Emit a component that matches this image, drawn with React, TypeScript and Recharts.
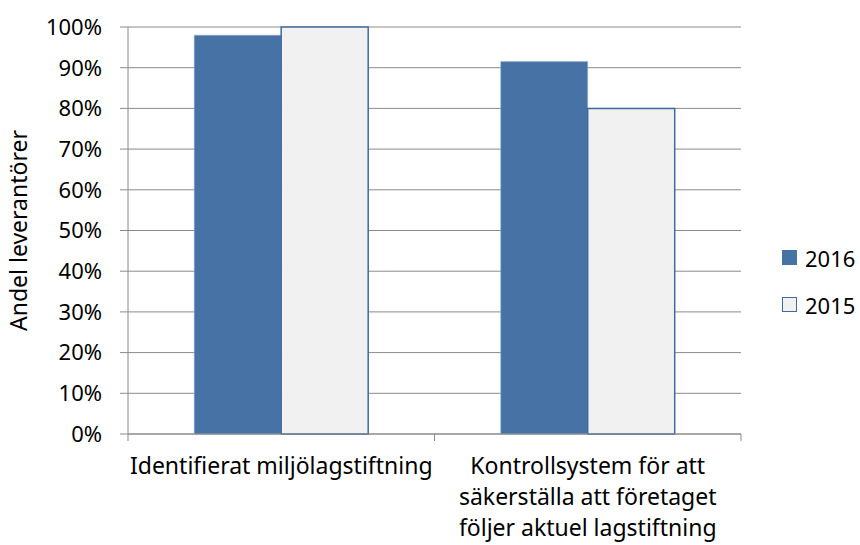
import React from "react";
import { BarChart, Bar, XAxis, YAxis, CartesianGrid, Legend } from "recharts";

const categories = [
  "Identifierat miljölagstiftning",
  "Kontrollsystem för att\nsäkerställa att företaget\nföljer aktuel lagstiftning",
];
const values2016 = [0.98, 0.915];
const values2015 = [1.0, 0.8];
const seriesNames = ["2016", "2015"];
const yTicks = [0, 0.1, 0.2, 0.3, 0.4, 0.5, 0.6, 0.7, 0.8, 0.9, 1.0];
const yTitle = "Andel leverantörer";

const data = categories.map((c, i) => ({
  name: c,
  s2016: values2016[i],
  s2015: values2015[i],
}));

const W = 860;
const H = 545;
const LEGEND_W = 80;
const RIGHT_GAP = 119;
const M = { top: 27, right: RIGHT_GAP - LEGEND_W, bottom: 0, left: 0 };
const Y_W = 128;
const X_H = 111;
const PLOT_W = W - RIGHT_GAP - Y_W;
const BAND = PLOT_W / categories.length;
const FONT = "'Noto Sans', 'Open Sans', sans-serif";
const GRAY = "#8a8a8a";
const BLUE = "#4672A6";
const LIGHT = "#F1F1F1";
const EDGE = "#3F6B9F";

const CatTick = (props: any) => {
  const { x, y, payload, index } = props;
  const lines = String(payload.value).split("\n");
  const isLast = index === categories.length - 1;
  return (
    <g>
      <line x1={x - BAND / 2} x2={x - BAND / 2} y1={y} y2={y + 7} stroke={GRAY} strokeWidth={1} />
      {isLast && (
        <line x1={x + BAND / 2} x2={x + BAND / 2} y1={y} y2={y + 7} stroke={GRAY} strokeWidth={1} />
      )}
      <text x={x} y={y + 40} textAnchor="middle" fontSize={23} fill="#000" fontFamily={FONT}>
        {lines.map((l, i) => (
          <tspan key={i} x={x} dy={i === 0 ? 0 : 31}>
            {l}
          </tspan>
        ))}
      </text>
    </g>
  );
};

const YTitle = (props: any) => {
  const vb = props.viewBox || { x: 0, y: 0, width: 0, height: 0 };
  const cx = 18;
  const cy = vb.y + vb.height / 2;
  return (
    <text
      x={cx}
      y={cy}
      transform={`rotate(-90, ${cx}, ${cy})`}
      textAnchor="middle"
      dominantBaseline="central"
      fontSize={23}
      fill="#000"
      fontFamily={FONT}
    >
      {yTitle}
    </text>
  );
};

const LegendContent = () => {
  const items = [
    { name: seriesNames[0], fill: BLUE, stroke: BLUE },
    { name: seriesNames[1], fill: LIGHT, stroke: EDGE },
  ];
  return (
    <div style={{ fontFamily: FONT, fontSize: 22, color: "#000" }}>
      {items.map((it) => (
        <div key={it.name} style={{ display: "flex", alignItems: "center", height: 47 }}>
          <span
            style={{
              display: "inline-block",
              width: 13,
              height: 13,
              background: it.fill,
              border: `1px solid ${it.stroke}`,
              marginRight: 8,
            }}
          />
          <span>{it.name}</span>
        </div>
      ))}
    </div>
  );
};

export default function App() {
  return (
    <div style={{ position: "absolute", left: 0, top: 0, fontFamily: FONT, background: "#fff" }}>
      <BarChart
        width={W}
        height={H}
        data={data}
        margin={M}
        barGap={0}
        barCategoryGap="21.6%"
      >
        <CartesianGrid vertical={false} stroke={GRAY} strokeWidth={1} />
        <XAxis
          dataKey="name"
          height={X_H}
          axisLine={{ stroke: GRAY }}
          tickLine={false}
          tickSize={0}
          tickMargin={0}
          tick={<CatTick />}
          interval={0}
        />
        <YAxis
          width={Y_W}
          domain={[0, 1]}
          ticks={yTicks}
          interval={0}
          tickFormatter={(v: number) => `${Math.round(v * 100)}%`}
          axisLine={{ stroke: GRAY }}
          tickLine={{ stroke: GRAY }}
          tickSize={8}
          tickMargin={18}
          tick={{ fill: "#000", fontSize: 22, fontFamily: FONT }}
          label={<YTitle />}
        />
        <Legend
          layout="vertical"
          align="right"
          verticalAlign="top"
          wrapperStyle={{ left: 782, top: 234, width: LEGEND_W }}
          content={<LegendContent />}
        />
        <Bar dataKey="s2016" name={seriesNames[0]} fill={BLUE} stroke="#9fb3cc" strokeWidth={0.5} isAnimationActive={false} />
        <Bar dataKey="s2015" name={seriesNames[1]} fill={LIGHT} stroke={EDGE} strokeWidth={1.5} isAnimationActive={false} />
      </BarChart>
    </div>
  );
}
